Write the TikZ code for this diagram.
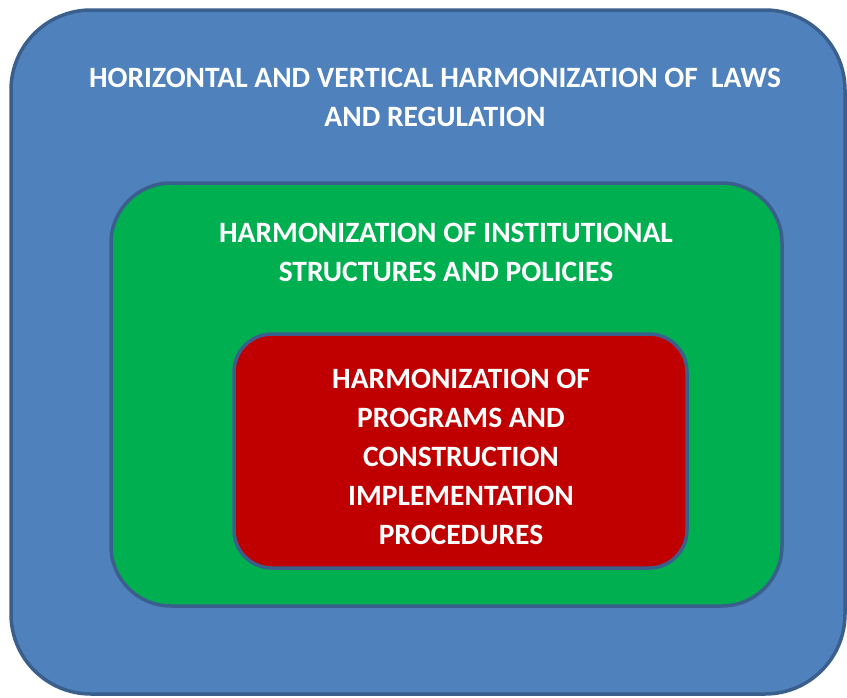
\documentclass[tikz,border=0pt]{standalone}
\usepackage{fontspec}
\setmainfont{Carlito}
\definecolor{oblue}{HTML}{4F81BD}
\definecolor{oedge}{HTML}{3A5F8D}
\definecolor{ogreen}{HTML}{00B050}
\definecolor{ored}{HTML}{C00000}
\begin{document}
\begin{tikzpicture}[x=1pt,y=-1pt,
  box/.style={draw=oedge,line width=3.5pt},
  lbl/.style={text=white,font=\fontsize{29.5}{39}\selectfont\bfseries,align=center,inner sep=0pt}]
\useasboundingbox (0,0) rectangle (847,697);
\draw[box,fill=oblue,rounded corners=80pt] (11,10) rectangle (845,694);
\draw[box,fill=ogreen,rounded corners=60pt] (111,183) rectangle (782,606);
\draw[box,fill=ored,rounded corners=38pt] (234,334) rectangle (687,568);
\node[lbl] (t1) at (435,97) {HORIZONTAL AND VERTICAL HARMONIZATION OF \ LAWS\\AND REGULATION};
\node[lbl] (t2) at (446,252) {HARMONIZATION OF INSTITUTIONAL\\STRUCTURES AND POLICIES};
\node[lbl] (t3) at (461,457) {HARMONIZATION OF\\PROGRAMS AND\\CONSTRUCTION\\IMPLEMENTATION\\PROCEDURES};
\end{tikzpicture}
\end{document}
